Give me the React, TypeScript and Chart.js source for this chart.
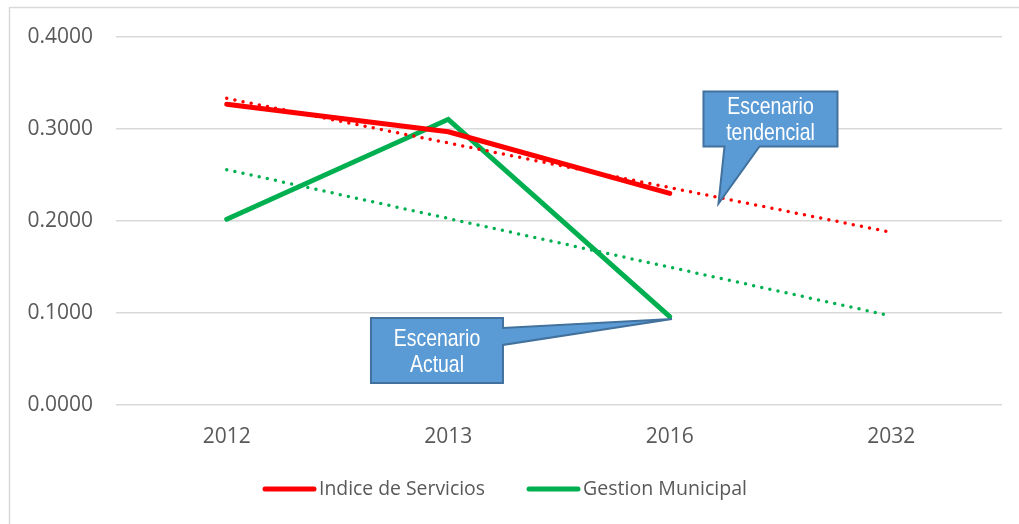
import React, { useEffect, useRef } from "react";
import { Chart, registerables } from "chart.js";

Chart.register(...registerables);

// ---- data ----
const categories = ["2012", "2013", "2016", "2032"];
const indiceServicios = [0.327, 0.297, 0.23, null];
const gestionMunicipal = [0.202, 0.3105, 0.096, null];
const indiceTrend = [0.3333, 0.2848, 0.2363, 0.1877];
const gestionTrend = [0.2558, 0.2028, 0.1498, 0.0968];
const yTicks = [0, 0.1, 0.2, 0.3, 0.4];
const seriesNames = ["Indice de Servicios", "Gestion Municipal"];
const seriesColors = ["#FF0000", "#00B050"];

// callout anchors (in data coordinates) and texts
const calloutActualText = ["Escenario", "Actual"];
const calloutActualTip = { x: 2.01, y: 0.0935 };
const calloutTendText = ["Escenario", "tendencial"];
const calloutTendTip = { x: 2.22, y: 0.219 };

const TEXT_COLOR = "#595959";
const GRID_COLOR = "#D9D9D9";
const FONT = "'Open Sans', 'Noto Sans', sans-serif";
const CALLOUT_FONT = "'Liberation Sans', Arial, sans-serif";

function drawCalloutText(ctx: CanvasRenderingContext2D, lines: string[], cx: number, cy: number) {
  ctx.save();
  ctx.fillStyle = "#FFFFFF";
  ctx.font = `24px ${CALLOUT_FONT}`;
  ctx.textAlign = "center";
  ctx.textBaseline = "alphabetic";
  const lh = 26;
  const n = lines.length;
  lines.forEach((t, i) => {
    const yMid = cy + (i - (n - 1) / 2) * lh;
    const w = ctx.measureText(t).width;
    ctx.fillText(t, cx, yMid + 8.5, w * 0.81);
  });
  ctx.restore();
}

const decorPlugin = {
  id: "decor",
  beforeDraw(chart: any) {
    const { ctx, width, height } = chart;
    ctx.save();
    ctx.fillStyle = "#FFFFFF";
    ctx.fillRect(0, 0, width, height);
    ctx.strokeStyle = GRID_COLOR;
    ctx.lineWidth = 1.5;
    ctx.beginPath();
    ctx.moveTo(9.5, height);
    ctx.lineTo(9.5, 7.5);
    ctx.lineTo(width, 7.5);
    ctx.stroke();
    ctx.restore();
  },
  afterDatasetsDraw(chart: any) {
    const { ctx } = chart;
    const xs = chart.scales.x;
    const ys = chart.scales.y;
    const px = (v: number) => {
      const i = Math.floor(v);
      const f = v - i;
      const a = xs.getPixelForValue(i);
      const b = xs.getPixelForValue(Math.min(i + 1, categories.length - 1));
      return a + (b - a) * f;
    };
    ctx.save();
    ctx.fillStyle = "#5B9BD5";
    ctx.strokeStyle = "#41719C";
    ctx.lineWidth = 2;
    ctx.lineJoin = "miter";

    // Escenario Actual
    {
      const tx = px(calloutActualTip.x);
      const ty = ys.getPixelForValue(calloutActualTip.y);
      const L = tx - 301, T = ty - 1, W = 132, H = 65;
      const R = L + W, B = T + H;
      ctx.beginPath();
      ctx.moveTo(L, T);
      ctx.lineTo(R, T);
      ctx.lineTo(R, T + 10);
      ctx.lineTo(tx, ty);
      ctx.lineTo(R, T + 27);
      ctx.lineTo(R, B);
      ctx.lineTo(L, B);
      ctx.closePath();
      ctx.fill();
      ctx.stroke();
      drawCalloutText(ctx, calloutActualText, L + W / 2, T + H / 2);
    }
    // Escenario tendencial
    {
      const tx = px(calloutTendTip.x);
      const ty = ys.getPixelForValue(calloutTendTip.y);
      const L = tx - 15, T = ty - 112, W = 134, H = 55;
      const R = L + W, B = T + H;
      ctx.beginPath();
      ctx.moveTo(L, T);
      ctx.lineTo(R, T);
      ctx.lineTo(R, B);
      ctx.lineTo(L + 56, B);
      ctx.lineTo(tx, ty);
      ctx.lineTo(L + 21, B);
      ctx.lineTo(L, B);
      ctx.closePath();
      ctx.fill();
      ctx.stroke();
      drawCalloutText(ctx, calloutTendText, L + W / 2, T + H / 2 - 1);
    }
    ctx.restore();
  },
  afterDraw(chart: any) {
    const { ctx } = chart;
    ctx.save();
    ctx.font = `20px ${FONT}`;
    ctx.textBaseline = "middle";
    ctx.textAlign = "left";
    let x = 265;
    const y = 489;
    seriesNames.forEach((name, i) => {
      ctx.strokeStyle = seriesColors[i];
      ctx.lineWidth = 5;
      ctx.lineCap = "round";
      ctx.beginPath();
      ctx.moveTo(x, y);
      ctx.lineTo(x + 49, y);
      ctx.stroke();
      x += 54;
      ctx.fillStyle = TEXT_COLOR;
      const w = ctx.measureText(name).width;
      const target = name === seriesNames[0] ? 166 : 164;
      ctx.fillText(name, x, y, Math.min(w, target));
      x += Math.min(w, target) + 44;
    });
    ctx.restore();
  },
};

export default function App() {
  const canvasRef = useRef<HTMLCanvasElement | null>(null);

  useEffect(() => {
    if (!canvasRef.current) return;
    Chart.defaults.font.family = FONT;
    const chart = new Chart(canvasRef.current, {
      type: "line",
      data: {
        labels: categories,
        datasets: [
          {
            label: seriesNames[0] + " trend",
            data: indiceTrend,
            borderColor: seriesColors[0],
            borderWidth: 3.5,
            borderDash: [0, 8.3],
            borderCapStyle: "round",
            pointRadius: 0,
            fill: false,
            order: 0,
          },
          {
            label: seriesNames[1] + " trend",
            data: gestionTrend,
            borderColor: seriesColors[1],
            borderWidth: 3.5,
            borderDash: [0, 8.3],
            borderCapStyle: "round",
            pointRadius: 0,
            fill: false,
            order: 0,
          },
          {
            label: seriesNames[0],
            data: indiceServicios,
            borderColor: seriesColors[0],
            backgroundColor: seriesColors[0],
            borderWidth: 5,
            borderCapStyle: "round",
            borderJoinStyle: "round",
            pointRadius: 0,
            fill: false,
            order: 1,
          },
          {
            label: seriesNames[1],
            data: gestionMunicipal,
            borderColor: seriesColors[1],
            backgroundColor: seriesColors[1],
            borderWidth: 5,
            borderCapStyle: "round",
            borderJoinStyle: "miter",
            pointRadius: 0,
            fill: false,
            order: 1,
          },
        ],
      },
      options: {
        responsive: false,
        animation: false,
        layout: { padding: { left: 10, top: 37, right: 17, bottom: 75 } },
        plugins: {
          legend: { display: false },
          tooltip: { enabled: false },
        },
        scales: {
          x: {
            type: "category",
            offset: true,
            grid: { display: false, drawTicks: false },
            border: { display: false },
            ticks: {
              color: TEXT_COLOR,
              font: { size: 21, family: FONT },
              padding: 19,
              maxRotation: 0,
            },
            afterFit(scale: any) {
              scale.height = 44;
            },
          },
          y: {
            min: 0,
            max: 0.4,
            grid: { color: GRID_COLOR, lineWidth: 1.5, drawTicks: false },
            border: { display: false },
            afterBuildTicks(scale: any) {
              scale.ticks = yTicks.map((v) => ({ value: v }));
            },
            ticks: {
              color: TEXT_COLOR,
              font: { size: 21, family: FONT },
              padding: 23,
              callback: (v: any) => Number(v).toFixed(4),
            },
            afterFit(scale: any) {
              scale.width = 106;
            },
          },
        },
      },
      plugins: [decorPlugin],
    } as any);
    return () => chart.destroy();
  }, []);

  return (
    <div style={{ position: "absolute", left: 0, top: 0, width: 1019, height: 524 }}>
      <canvas ref={canvasRef} width={1019} height={524} style={{ display: "block" }} />
    </div>
  );
}
